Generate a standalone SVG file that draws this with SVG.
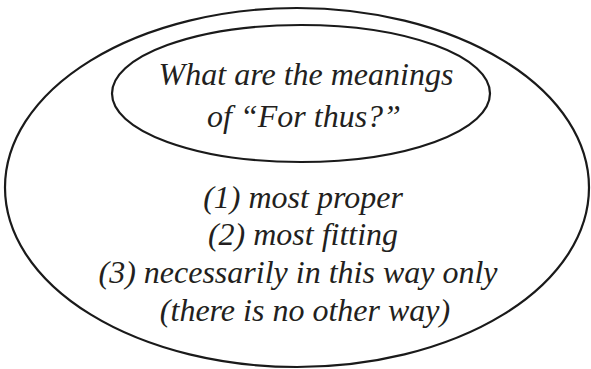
<svg xmlns="http://www.w3.org/2000/svg" width="591" height="369" viewBox="0 0 591 369">
<style>
.shape{fill:none;stroke:#1a1a1a;stroke-width:2.2}
.t{font-family:"Liberation Serif","Times New Roman",serif;font-style:italic;font-size:32px;fill:#231f20;text-anchor:middle}
</style>
<rect width="591" height="369" fill="#ffffff"/>
<g id="outer">
<ellipse class="shape" cx="297" cy="187.5" rx="292" ry="179.5"/>
<text class="t" x="303" y="208">(1) most proper</text>
<text class="t" x="303" y="245">(2) most fitting</text>
<text class="t" x="298" y="283">(3) necessarily in this way only</text>
<text class="t" x="305" y="321">(there is no other way)</text>
</g>
<g id="inner">
<ellipse class="shape" cx="301" cy="93.5" rx="189" ry="68.5"/>
<text class="t" x="306" y="85">What are the meanings</text>
<text class="t" x="304" y="127">of “For thus?”</text>
</g>
<g id="connectors"/>
</svg>
